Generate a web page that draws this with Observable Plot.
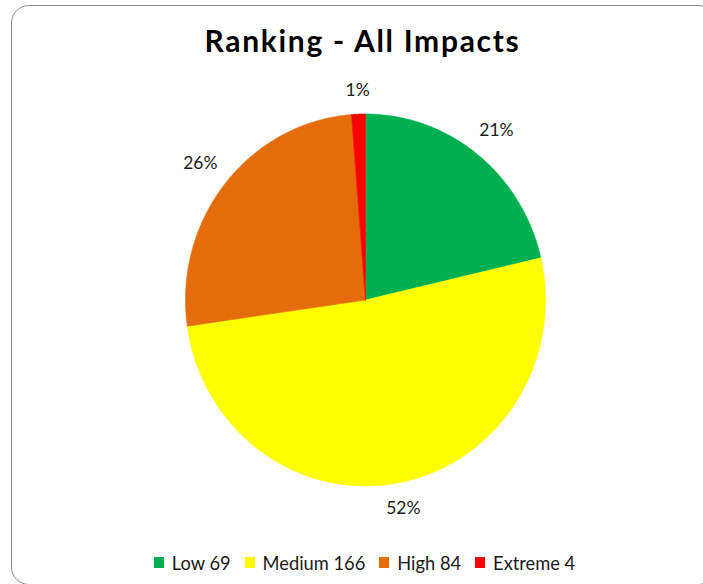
<!DOCTYPE html>
<html>
<head>
<meta charset="utf-8">
<script src="https://cdn.jsdelivr.net/npm/d3@7"></script>
<script src="https://cdn.jsdelivr.net/npm/@observablehq/plot@0.6"></script>
<style>
  html, body { margin: 0; padding: 0; background: #fff; overflow: hidden; }
  #wrap { position: relative; width: 703px; height: 584px; overflow: hidden; font-family: Lato, "Open Sans", sans-serif; }
  #frame { position: absolute; left: 11px; top: 5px; width: 705px; height: 580px; border: 1.6px solid #8a8a8a; border-radius: 18px; box-sizing: border-box; pointer-events: none; }
  #title { box-sizing: border-box; height: 70px; padding-top: 25px; font-size: 30px; line-height: 30px; font-weight: 700; color: #000; text-align: center; letter-spacing: 1.7px; padding-left: 22px; white-space: nowrap; }
  #chart svg { display: block; }
  #legend { box-sizing: border-box; padding-top: 6px; height: 49px; display: flex; justify-content: center; align-items: center; font-size: 18.3px; line-height: 20px; color: #1a1a1a; padding-left: 26px; }
  .item { display: flex; align-items: center; margin: 0 7px; white-space: nowrap; }
  .sw { width: 10px; height: 11px; margin-right: 8px; }
</style>
</head>
<body>
<div id="wrap">
  <div id="title">Ranking - All Impacts</div>
  <div id="chart"></div>
  <div id="legend"></div>
  <div id="frame"></div>
</div>
<script>
const categories = ["Low", "Medium", "High", "Extreme"];
const counts = [69, 166, 84, 4];
const percentLabels = ["21%", "52%", "26%", "1%"];
const colors = ["#00B050", "#FFFF00", "#E46C0A", "#FF0000"];

const rows = categories.map((c, i) => ({cat: c, count: counts[i], label: percentLabels[i]}));
const arcs = d3.pie().sort(null).value(d => d.count)(rows);

const Rx = 180, Ry = 186;
const pts = [];
for (const s of arcs) {
  const cat = s.data.cat;
  const n = Math.max(2, Math.ceil((s.endAngle - s.startAngle) / 0.005));
  pts.push({cat, x: 0, y: 0});
  for (let k = 0; k <= n; k++) {
    const a = s.startAngle + (s.endAngle - s.startAngle) * k / n;
    pts.push({cat, x: Math.sin(a), y: Math.cos(a)});
  }
  pts.push({cat, x: 0, y: 0});
}

const gap = 15;
const labels = arcs.map(s => {
  const a = (s.startAngle + s.endAngle) / 2;
  const sx = Math.sin(a), cy = Math.cos(a);
  const ext = Math.abs(sx) * s.data.label.length * 5 + Math.abs(cy) * 8;
  return {label: s.data.label, x: sx * (Rx + gap + ext) / Rx, y: cy * (Ry + gap + ext) / Ry};
});

const chart = Plot.plot({
  width: 703,
  height: 465,
  marginLeft: 185,
  marginRight: 158,
  marginTop: 43.5,
  marginBottom: 49.5,
  x: {domain: [-1, 1], axis: null},
  y: {domain: [-1, 1], axis: null},
  color: {domain: categories, range: colors},
  style: {fontFamily: "Lato, sans-serif", background: "transparent", overflow: "visible"},
  marks: [
    Plot.line(pts, {x: "x", y: "y", z: "cat", fill: "cat", stroke: "cat", strokeWidth: 0.6, curve: "linear"}),
    Plot.text(labels, {x: "x", y: "y", text: "label", fontSize: 17.5, fill: "#1a1a1a"})
  ]
});
document.getElementById("chart").appendChild(chart);

const legend = document.getElementById("legend");
categories.forEach((c, i) => {
  const item = document.createElement("div");
  item.className = "item";
  const sw = document.createElement("span");
  sw.className = "sw";
  sw.style.background = colors[i];
  const t = document.createElement("span");
  t.textContent = c + " " + counts[i];
  item.appendChild(sw);
  item.appendChild(t);
  legend.appendChild(item);
});
</script>
</body>
</html>
